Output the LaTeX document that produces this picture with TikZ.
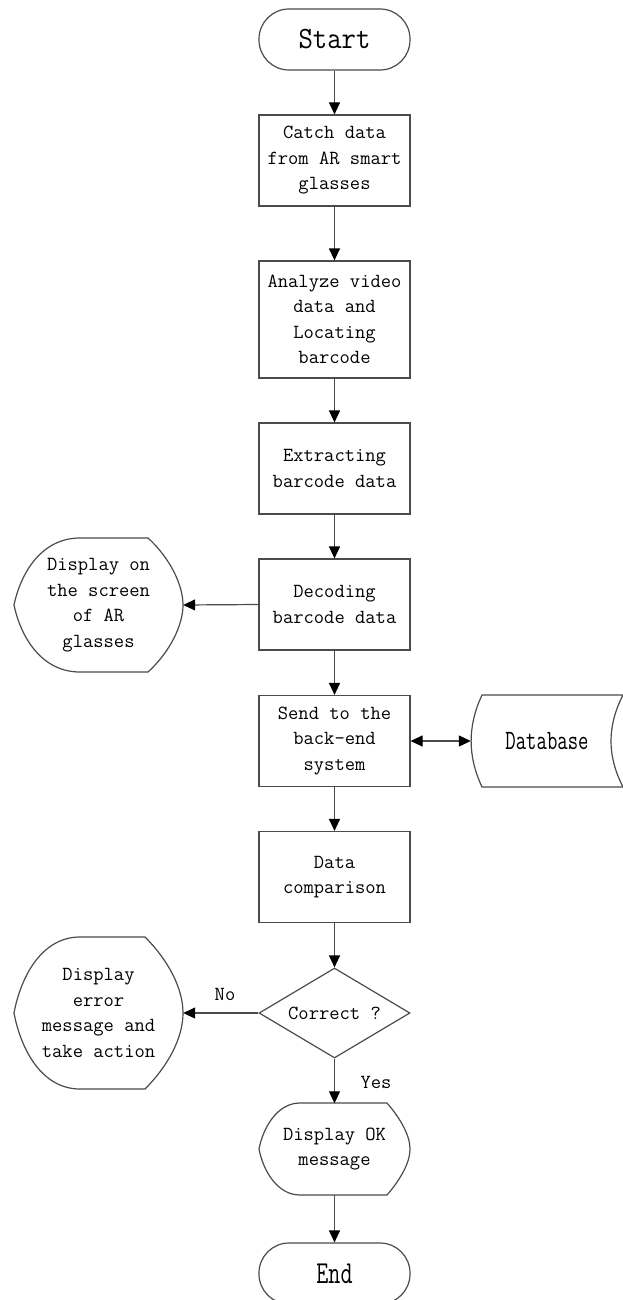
\documentclass[tikz,border=0pt]{standalone}
\usepackage{fontspec}
\usetikzlibrary{arrows.meta,shapes.geometric}
\definecolor{linec}{RGB}{75,75,75}
\begin{document}
\begin{tikzpicture}[x=1pt,y=-1pt,
  txt/.style={font=\fontsize{20}{25.5}\selectfont\ttfamily, text=black, align=center},
  procbox/.style={txt, draw=linec, line width=1.2pt, rectangle, inner sep=0pt, minimum width=151pt},
  term/.style={draw=linec, line width=1.2pt, rectangle, rounded corners=30pt, inner sep=0pt, minimum width=151pt, minimum height=61pt},
  decis/.style={txt, draw=linec, line width=1.2pt, diamond, aspect=1.68, inner sep=0pt, minimum width=151pt, minimum height=90pt},
  shapebox/.style={txt, inner sep=0pt},
  outl/.style={draw=linec, line width=1.2pt},
  arr/.style={draw=linec, line width=1.2pt, -{Triangle[length=12pt,width=11pt,color=black]}},
  darr/.style={draw=linec, line width=1.2pt, {Triangle[length=12pt,width=11pt,color=black]}-{Triangle[length=12pt,width=11pt,color=black]}},
  lab/.style={font=\fontsize{20}{24}\selectfont\ttfamily, text=black, inner sep=0pt}
]
\useasboundingbox (0,0) rectangle (623,1300);
\fill[white] (0,0) rectangle (623,1300);

% main column
\node[term] (start) at (334.5,39.5) {\scalebox{0.9}[1]{\fontsize{31}{31}\selectfont\ttfamily Start}};
\node[procbox, minimum height=91pt] (b1) at (334.5,160.5) {Catch data\\from AR smart\\glasses};
\node[procbox, minimum height=117pt] (b2) at (334.5,319.5) {Analyze video\\data and\\Locating\\barcode};
\node[procbox, minimum height=91pt] (b3) at (334.5,468.5) {Extracting\\barcode data};
\node[procbox, minimum height=91pt] (b4) at (334.5,604.5) {Decoding\\barcode data};
\node[procbox, minimum height=91pt] (b5) at (334.5,741) {Send to the\\back-end\\system};
\node[procbox, minimum height=91pt] (b6) at (334.5,877) {Data\\comparison};
\node[decis] (dec) at (334.5,1013) {Correct ?};

% Display OK shape
\node[shapebox, minimum width=152pt, minimum height=91pt] (ok) at (334.5,1149) {Display OK\\message};
\draw[outl] (300,1103) -- (387,1103) .. controls (400,1118) and (410,1135) .. (410,1149)
  .. controls (410,1163) and (400,1180) .. (387,1195)
  -- (300,1195) .. controls (277,1195) and (263,1170) .. (259,1149)
  .. controls (263,1128) and (277,1103) .. cycle;

% End
\node[term] (end) at (334.5,1273.5) {\scalebox{0.73}[1]{\fontsize{32}{32}\selectfont\ttfamily End}};

% Display on the screen shape
\node[shapebox, minimum width=169pt, minimum height=134pt] (d1) at (98.5,605) {Display on\\the screen\\of AR\\glasses};
\draw[outl] (80,538) -- (148,538) .. controls (170,558) and (183,585) .. (183,605)
  .. controls (183,625) and (170,652) .. (148,672)
  -- (80,672) .. controls (42,672) and (21,638) .. (14,605)
  .. controls (21,572) and (42,538) .. cycle;

% Display error shape
\node[shapebox, minimum width=169pt, minimum height=152pt] (d2) at (98.5,1013) {Display\\error\\message and\\take action};
\draw[outl] (80,937) -- (145,937) .. controls (168,960) and (183,988) .. (183,1013)
  .. controls (183,1038) and (168,1066) .. (145,1089)
  -- (80,1089) .. controls (42,1089) and (21,1050) .. (14,1013)
  .. controls (21,976) and (42,937) .. cycle;

% Database shape
\node[shapebox, minimum width=152pt, minimum height=92pt] (db) at (547,741)
  {\scalebox{0.72}[1]{\fontsize{28}{28}\selectfont\ttfamily Database}};
\draw[outl] (482,695) -- (623,695) .. controls (607,726) and (607,756) .. (623,787) -- (482,787)
  .. controls (467.5,756) and (467.5,726) .. cycle;

% connectors
\draw[arr] (start.south) -- (b1.north);
\draw[arr] (b1.south) -- (b2.north);
\draw[arr] (b2.south) -- (b3.north);
\draw[arr] (b3.south) -- (b4.north);
\draw[arr] (b4.west) -- (d1.east);
\draw[arr] (b4.south) -- (b5.north);
\draw[darr] (b5.east) -- (db.west);
\draw[arr] (b5.south) -- (b6.north);
\draw[arr] (b6.south) -- (dec.north);
\draw[arr] (dec.west) -- (d2.east);
\draw[arr] (dec.south) -- (ok.north);
\draw[arr] (ok.south) -- (end.north);

\node[lab] (no) at (225,994) {No};
\node[lab] (yes) at (376,1082) {Yes};
\end{tikzpicture}
\end{document}
